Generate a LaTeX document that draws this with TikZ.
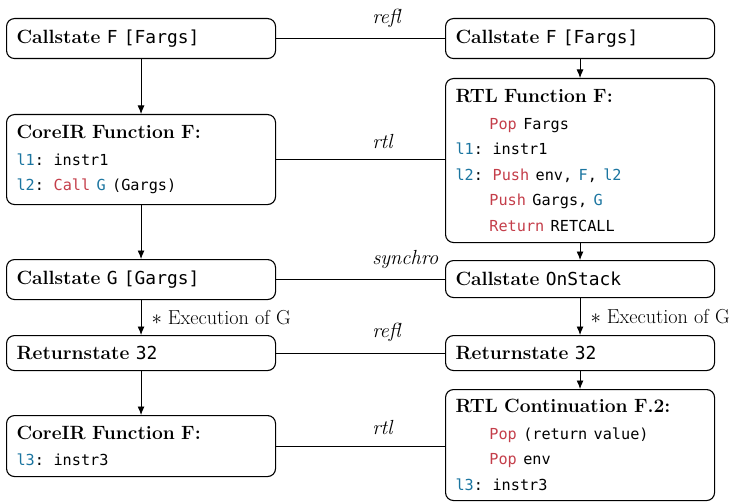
\documentclass[tikz,border=0pt]{standalone}
\usepackage{fontspec}
\newfontfamily\monofam{DejaVu Sans Mono}
\usetikzlibrary{arrows.meta,calc}
\definecolor{kred}{RGB}{196,62,74}
\definecolor{kblue}{RGB}{27,117,160}
\newcommand\hm[1]{{\monofam\fontsize{17.9}{25.5}\selectfont #1}}
\newcommand\cl[1]{{\monofam\fontsize{15.2}{25.5}\selectfont #1}}
\newcommand\kw[1]{\textcolor{kred}{#1}}
\newcommand\lb[1]{\textcolor{kblue}{#1}}
\newcommand\ind{\hphantom{l1:\ }}
\begin{document}
\begin{tikzpicture}[x=1pt,y=-1pt,
  box/.style={draw, line width=1.1pt, rounded corners=8pt, anchor=north west,
    inner xsep=10pt, inner ysep=0pt, align=left, minimum width=269pt, text width=249pt,
    font=\fontsize{19.2}{25.5}\selectfont},
  conn/.style={line width=0.9pt},
  arr/.style={line width=0.9pt, -{Latex[length=8.5pt,width=7pt]}},
  elab/.style={anchor=south west, inner sep=0pt, font=\fontsize{20.4}{22}\selectfont\itshape},
  xlab/.style={anchor=west, inner sep=0pt, xshift=10pt, font=\fontsize{20.2}{22}\selectfont}]
\useasboundingbox (0,0) rectangle (729,503);
% left column
\node[box, minimum height=40pt] (L1) at (6,18) {\textbf{Callstate} \hm{F [Fargs]}};
\node[box, minimum height=90pt] (L2) at (6,114) {\textbf{CoreIR Function F:}\\[1pt]
  \cl{\lb{l1}: instr1}\\
  \cl{\lb{l2}: \kw{Call} \lb{G} (Gargs)}};
\node[box, minimum height=40pt] (L3) at (6,259) {\textbf{Callstate} \hm{G [Gargs]}};
\node[box, minimum height=35pt] (L4) at (6,335) {\textbf{Returnstate} \hm{32}};
\node[box, minimum height=61pt] (L5) at (6,415) {\textbf{CoreIR Function F:}\\[1pt]
  \cl{\lb{l3}: instr3}};
% right column
\node[box, minimum height=40pt] (R1) at (445,18) {\textbf{Callstate} \hm{F [Fargs]}};
\node[box, minimum height=164pt] (R2) at (445,78) {\textbf{RTL Function F:}\\[1pt]
  \cl{\ind\kw{Pop} Fargs}\\
  \cl{\lb{l1}: instr1}\\
  \cl{\lb{l2}: \kw{Push} env, \lb{F}, \lb{l2}}\\
  \cl{\ind\kw{Push} Gargs, \lb{G}}\\
  \cl{\ind\kw{Return} RETCALL}};
\node[box, minimum height=37pt] (R3) at (445,260) {\textbf{Callstate} \hm{OnStack}};
\node[box, minimum height=35pt] (R4) at (445,335) {\textbf{Returnstate} \hm{32}};
\node[box, minimum height=111pt] (R5) at (445,389) {\textbf{RTL Continuation F.2:}\\[1pt]
  \cl{\ind\kw{Pop} (return value)}\\
  \cl{\ind\kw{Pop} env}\\
  \cl{\lb{l3}: instr3}};
% vertical arrows
\draw[arr] (L1.south) -- (L2.north);
\draw[arr] (L2.south) -- (L3.north);
\draw[arr] (L3.south) -- node[xlab] (xl) {$\ast$ Execution of G} (L4.north);
\draw[arr] (L4.south) -- (L5.north);
\draw[arr] (R1.south) -- (R2.north);
\draw[arr] (R2.south) -- (R3.north);
\draw[arr] (R3.south) -- node[xlab] (xr) {$\ast$ Execution of G} (R4.north);
\draw[arr] (R4.south) -- (R5.north);
% horizontal relations
\draw[conn] (L1.east) -- (L1.east -| R1.west);
\draw[conn] (L2.east) -- (L2.east -| R2.west);
\draw[conn] (L3.east) -- (L3.east -| R3.west);
\draw[conn] (L4.east) -- (L4.east -| R4.west);
\draw[conn] (L5.east) -- (L5.east -| R5.west);
\node[elab] (e1) at ($(L1.east)+(96,-11)$) {refl};
\node[elab] (e2) at ($(L2.east)+(96,-11)$) {rtl};
\node[elab] (e3) at ($(L3.east)+(96,-11)$) {synchro};
\node[elab] (e4) at ($(L4.east)+(96,-11)$) {refl};
\node[elab] (e5) at ($(L5.east)+(96,-11)$) {rtl};
\end{tikzpicture}
\end{document}
